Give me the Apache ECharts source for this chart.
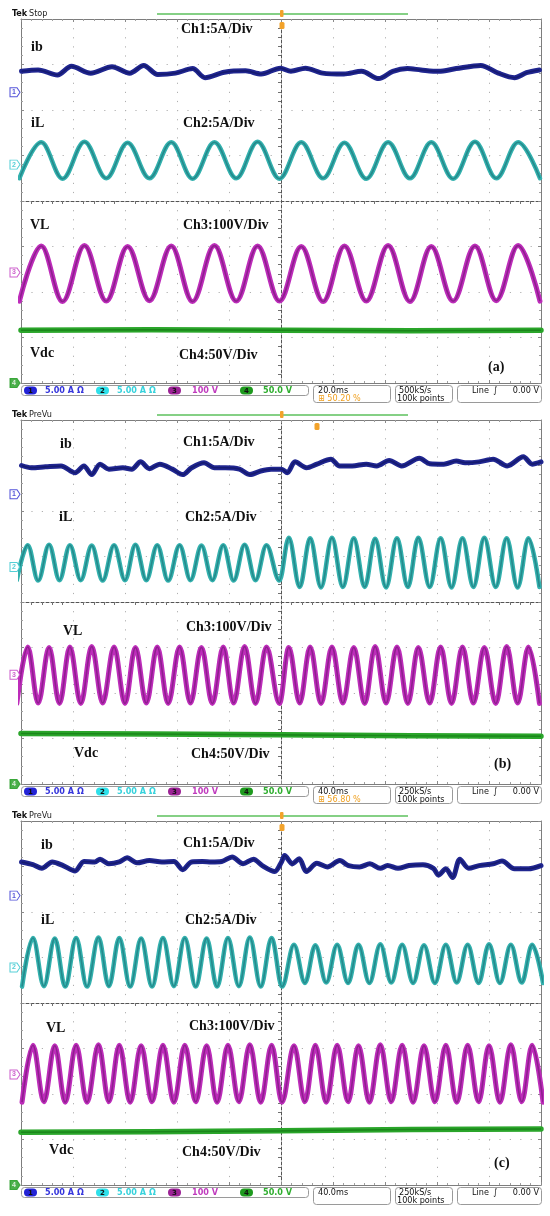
<!DOCTYPE html>
<html>
<head>
<meta charset="utf-8">
<script src="https://cdn.jsdelivr.net/npm/echarts@6/dist/echarts.min.js"></script>
<style>
  html, body { margin: 0; padding: 0; background: #fff; }
  #chart { width: 550px; height: 1216px; }
</style>
</head>
<body>
<div id="chart"></div>
<script>
'use strict'

// all values in screen divisions: x from centre (-5..5), y from centre (-4..4)

// (a) 20 ms/div : extrema times (trough, peak, trough ...)
const tA = [-5.03, -4.61, -4.20, -3.78, -3.36, -2.95, -2.53, -2.11, -1.70, -1.28,
  -0.86, -0.45, -0.03, 0.39, 0.81, 1.22, 1.64, 2.06, 2.48, 2.89,
  3.31, 3.73, 4.14, 4.56, 4.98]
const iLA = [0.50, 1.29, 0.49, 1.30, 0.50, 1.28, 0.50, 1.29, 0.49, 1.29,
  0.50, 1.30, 0.49, 1.29, 0.50, 1.28, 0.49, 1.29, 0.50, 1.29,
  0.49, 1.30, 0.50, 1.29, 0.50]
const vLA = [-2.20, -0.99, -2.21, -0.98, -2.20, -1.00, -2.19, -0.99, -2.21, -0.98,
  -2.20, -0.99, -2.20, -1.00, -2.21, -0.99, -2.20, -0.98, -2.21, -1.00,
  -2.20, -0.99, -2.19, -0.98, -2.20]
const ibTA = [-4.99, -4.67, -4.30, -4.03, -3.66, -3.25, -2.91, -2.64, -2.37, -2.03,
  -1.70, -1.46, -1.09, -0.68, -0.38, -0.01, 0.19, 0.47, 0.80, 1.21,
  1.55, 1.88, 2.15, 2.43, 2.69, 3.03, 3.37, 3.84, 4.18, 4.49, 4.72, 4.97]
const ibA = [2.85, 2.88, 2.77, 2.96, 2.81, 2.95, 2.81, 2.98, 2.78, 2.81,
  2.91, 2.71, 2.83, 2.86, 2.79, 2.92, 2.85, 2.92, 2.81, 2.79,
  2.85, 2.69, 2.85, 2.91, 2.88, 2.85, 2.91, 2.98, 2.81, 2.71, 2.82, 2.88]
const vdcTA = [-5, -2.5, 0, 2.5, 5]
const vdcA = [-2.84, -2.83, -2.84, -2.85, -2.84]
const refA = [2.39, 0.80, -1.57, -4]

// (b) 40 ms/div
const tB = [-5.08, -4.87, -4.67, -4.46, -4.26, -4.06, -3.85, -3.64, -3.43, -3.21,
  -3.00, -2.80, -2.59, -2.38, -2.17, -1.95, -1.74, -1.53, -1.32, -1.11,
  -0.91, -0.70, -0.49, -0.28, -0.03, 0.15, 0.36, 0.56, 0.77, 0.98,
  1.19, 1.40, 1.61, 1.81, 2.02, 2.23, 2.44, 2.64, 2.86, 3.07,
  3.28, 3.49, 3.70, 3.91, 4.13, 4.34, 4.55, 4.76, 4.97]
const iLB = [0.48, 1.25, 0.47, 1.26, 0.48, 1.25, 0.48, 1.24, 0.47, 1.25,
  0.48, 1.26, 0.48, 1.25, 0.47, 1.25, 0.48, 1.24, 0.48, 1.25,
  0.47, 1.26, 0.48, 1.25, 0.47, 1.41, 0.33, 1.40, 0.32, 1.41,
  0.33, 1.40, 0.33, 1.39, 0.32, 1.40, 0.33, 1.41, 0.33, 1.40,
  0.32, 1.40, 0.33, 1.41, 0.33, 1.40, 0.32, 1.40, 0.33]
const vLB = [-2.23, -0.99, -2.22, -1.00, -2.23, -0.99, -2.23, -0.98, -2.22, -0.99,
  -2.23, -1.00, -2.22, -0.99, -2.23, -0.99, -2.22, -1.00, -2.23, -0.99,
  -2.22, -0.98, -2.23, -0.99, -2.23, -1.00, -2.22, -0.99, -2.23, -0.99,
  -2.22, -1.00, -2.23, -0.98, -2.22, -0.99, -2.23, -1.00, -2.22, -0.99,
  -2.23, -0.99, -2.22, -1.00, -2.23, -0.98, -2.22, -0.99, -2.23]
const ibTB = [-4.99, -4.80, -4.53, -4.23, -3.96, -3.79, -3.64, -3.48, -3.31, -3.04,
  -2.87, -2.70, -2.53, -2.33, -2.09, -1.89, -1.72, -1.48, -1.28, -1.07,
  -0.80, -0.60, -0.39, -0.19, 0.01, 0.12, 0.27, 0.49, 0.69, 0.96,
  1.13, 1.37, 1.64, 1.84, 2.08, 2.32, 2.66, 2.86, 3.13, 3.37,
  3.54, 3.81, 4.08, 4.35, 4.66, 4.83, 5.00]
const ibB = [3.00, 2.95, 2.97, 2.99, 2.84, 2.99, 2.80, 3.03, 2.92, 2.95,
  2.92, 3.08, 2.93, 3.03, 2.92, 2.80, 2.95, 3.06, 2.95, 2.95,
  2.92, 2.80, 2.88, 2.92, 2.92, 2.84, 3.08, 2.95, 3.03, 3.14,
  2.99, 2.99, 3.03, 2.99, 3.11, 2.99, 3.16, 3.04, 3.03, 3.10,
  3.06, 3.08, 3.14, 2.99, 3.19, 3.03, 3.08]
const vdcTB = [-5, -2.5, 0, 2.5, 5]
const vdcB = [-2.89, -2.90, -2.92, -2.94, -2.95]
const refB = [2.37, 0.77, -1.60, -4]

// (c) 40 ms/div
const tC = [-4.98, -4.77, -4.56, -4.35, -4.15, -3.94, -3.73, -3.51, -3.31, -3.11,
  -2.90, -2.69, -2.48, -2.27, -2.06, -1.85, -1.64, -1.43, -1.23, -1.02,
  -0.81, -0.60, -0.39, -0.18, 0.02, 0.25, 0.46, 0.66, 0.87, 1.08,
  1.29, 1.49, 1.70, 1.91, 2.12, 2.33, 2.54, 2.75, 2.96, 3.17,
  3.38, 3.59, 3.80, 4.00, 4.21, 4.42, 4.63, 4.83, 5.04]
const iLC = [0.36, 1.43, 0.37, 1.42, 0.36, 1.43, 0.36, 1.44, 0.37, 1.43,
  0.36, 1.42, 0.36, 1.43, 0.37, 1.43, 0.36, 1.42, 0.36, 1.43,
  0.37, 1.44, 0.36, 1.43, 0.36, 1.28, 0.44, 1.27, 0.45, 1.28,
  0.44, 1.28, 0.44, 1.29, 0.45, 1.28, 0.44, 1.27, 0.44, 1.28,
  0.45, 1.28, 0.44, 1.29, 0.44, 1.28, 0.45, 1.28, 0.44]
const vLC = [-2.18, -0.93, -2.17, -0.94, -2.18, -0.93, -2.18, -0.92, -2.17, -0.93,
  -2.18, -0.94, -2.17, -0.93, -2.18, -0.93, -2.17, -0.94, -2.18, -0.93,
  -2.17, -0.92, -2.18, -0.93, -2.18, -0.94, -2.17, -0.93, -2.18, -0.93,
  -2.17, -0.94, -2.18, -0.92, -2.17, -0.93, -2.18, -0.94, -2.17, -0.93,
  -2.18, -0.93, -2.17, -0.94, -2.18, -0.92, -2.17, -0.93, -2.18]
const ibTC = [-4.99, -4.77, -4.60, -4.40, -4.19, -3.96, -3.79, -3.58, -3.48, -3.31,
  -3.11, -2.96, -2.77, -2.53, -2.29, -2.06, -1.89, -1.72, -1.51, -1.34,
  -1.14, -0.94, -0.73, -0.53, -0.36, -0.12, 0.01, 0.07, 0.22, 0.35,
  0.49, 0.69, 0.89, 1.13, 1.30, 1.51, 1.71, 1.91, 2.05, 2.25,
  2.46, 2.73, 2.93, 3.03, 3.17, 3.30, 3.44, 3.61, 3.81, 4.08,
  4.25, 4.49, 4.76, 5.00]
const ibC = [3.10, 3.04, 2.96, 3.10, 3.02, 2.90, 3.11, 3.10, 3.16, 3.06,
  3.10, 3.19, 3.08, 3.13, 3.10, 3.11, 2.93, 3.10, 3.11, 3.10,
  3.11, 3.21, 3.06, 3.16, 3.02, 2.89, 3.10, 3.24, 3.06, 3.17,
  2.89, 3.07, 2.99, 3.13, 3.02, 2.99, 3.06, 2.96, 3.02, 2.96,
  3.02, 3.04, 2.96, 2.81, 2.95, 2.76, 3.16, 2.96, 3.02, 3.06,
  3.12, 2.95, 2.95, 3.02]
const vdcTC = [-5, -2.5, 0, 2.5, 5]
const vdcC = [-2.84, -2.83, -2.81, -2.78, -2.77]
const refC = [2.36, 0.78, -1.57, -4]

// readouts
const modes = ['Stop', 'PreVu', 'PreVu']
const timeDiv = ['20.0ms', '40.0ms', '40.0ms']
const trigPos = ['50.20 %', '56.80 %', '']
const sampleRate = ['500kS/s', '250kS/s', '250kS/s']
const chScale = ['5.00 A \u03a9', '5.00 A \u03a9', '100 V', '50.0 V']
const chNames = ['1', '2', '3', '4']

// layout
const TOPS = [19, 420, 821]
const LEFT = 21
const W = 520
const H = 364
const CH_COLORS = ['#2b2bd0', '#2cc3cc', '#c13ac0', '#1f9b1f']
const LABEL_FONT = 'bold 14px "Liberation Serif"'
const SMALL_FONT = '9px "DejaVu Sans Condensed"'

const notes = [
  [['ib', 31, 47], ['Ch1:5A/Div', 181, 29], ['iL', 31, 123], ['Ch2:5A/Div', 183, 123],
    ['VL', 30, 225], ['Ch3:100V/Div', 183, 225], ['Vdc', 30, 353], ['Ch4:50V/Div', 179, 355], ['(a)', 488, 367]],
  [['ib', 60, 444], ['Ch1:5A/Div', 183, 442], ['iL', 59, 517], ['Ch2:5A/Div', 185, 517],
    ['VL', 63, 631], ['Ch3:100V/Div', 186, 627], ['Vdc', 74, 753], ['Ch4:50V/Div', 191, 754], ['(b)', 494, 764]],
  [['ib', 41, 845], ['Ch1:5A/Div', 183, 843], ['iL', 41, 920], ['Ch2:5A/Div', 185, 920],
    ['VL', 46, 1028], ['Ch3:100V/Div', 189, 1026], ['Vdc', 49, 1150], ['Ch4:50V/Div', 182, 1152], ['(c)', 494, 1163]]
]
const trigMarkX = [282, 317, 282]

const panels = [
  { t: tA, iL: iLA, vL: vLA, ibT: ibTA, ib: ibA, vdcT: vdcTA, vdc: vdcA, ref: refA },
  { t: tB, iL: iLB, vL: vLB, ibT: ibTB, ib: ibB, vdcT: vdcTB, vdc: vdcB, ref: refB },
  { t: tC, iL: iLC, vL: vLC, ibT: ibTC, ib: ibC, vdcT: vdcTC, vdc: vdcC, ref: refC }
]

function zip (xs, ys) {
  const n = Math.min(xs.length, ys.length)
  const out = []
  for (let i = 0; i < n; i++) out.push([xs[i], ys[i]])
  return out
}

function axesFor (g) {
  const hidden = { show: false }
  const xb = { gridIndex: g, type: 'value', min: -5, max: 5, interval: 1, axisLabel: hidden, silent: true }
  const yb = { gridIndex: g, type: 'value', min: -4, max: 4, interval: 1, axisLabel: hidden, silent: true }
  const centre = {
    axisLine: { onZero: true, lineStyle: { color: '#555', width: 1, type: [3, 2] } },
    axisTick: { show: false },
    minorTick: { show: true, splitNumber: 5, length: 3, lineStyle: { color: '#707070' } }
  }
  const edge = {
    axisLine: { onZero: false, lineStyle: { color: '#7d7d7d', width: 1 } },
    axisTick: { show: true, inside: true, length: 3, lineStyle: { color: '#8a8a8a' } },
    minorTick: { show: true, splitNumber: 5, length: 2, lineStyle: { color: '#a0a0a0' } },
    splitLine: { show: false }
  }
  return {
    x: [
      { ...xb, ...centre, position: 'bottom', splitLine: { show: true, lineStyle: { color: '#b0b0b0', type: [1.2, 7.9] } } },
      { ...xb, ...edge, position: 'top' },
      { ...xb, ...edge, position: 'bottom' }
    ],
    y: [
      { ...yb, ...centre, position: 'left', splitLine: { show: true, lineStyle: { color: '#b0b0b0', type: [1.2, 9.2] } } },
      { ...yb, ...edge, position: 'left' },
      { ...yb, ...edge, position: 'right' }
    ]
  }
}

// a scope trace: a wide band with a slightly darker core
function trace (p, name, xs, ys, outer, inner, wOuter, smooth, mono) {
  const base = {
    type: 'line',
    xAxisIndex: p * 3,
    yAxisIndex: p * 3,
    data: zip(xs, ys),
    showSymbol: false,
    symbol: 'none',
    smooth,
    smoothMonotone: mono,
    silent: true,
    animation: false
  }
  return [
    { ...base, name, z: 3, lineStyle: { color: outer, width: wOuter, cap: 'round', join: 'round' } },
    { ...base, name: name + '-core', z: 4, lineStyle: { color: inner, width: 1.6 } }
  ]
}

function refMarkers (p, refs) {
  return {
    type: 'scatter',
    xAxisIndex: p * 3,
    yAxisIndex: p * 3,
    clip: false,
    silent: true,
    animation: false,
    z: 6,
    symbol: 'path://M0,0H7L10,5L7,10H0Z',
    symbolSize: [10, 9],
    symbolOffset: [-6, 0],
    data: refs.map((r, i) => ({
      value: [-5, r],
      itemStyle: i === 3
        ? { color: CH_COLORS[3], borderColor: CH_COLORS[3], borderWidth: 1 }
        : { color: '#fff', borderColor: CH_COLORS[i], borderWidth: 1 },
      label: {
        show: true,
        position: 'inside',
        offset: [-1, 0],
        formatter: chNames[i],
        fontSize: 7,
        fontWeight: 'bold',
        color: i === 3 ? '#fff' : CH_COLORS[i]
      }
    }))
  }
}

function txt (x, y, text, font, fill, align) {
  const a = align || 'left'
  return {
    type: 'text', x, y, silent: true, z: 20,
    style: { text, font, fill, align: a, verticalAlign: 'middle', textAlign: a, textVerticalAlign: 'middle' }
  }
}

function rect (x, y, w, h, r, fill, stroke) {
  return {
    type: 'rect', silent: true, z: 19,
    shape: { x, y, width: w, height: h, r },
    style: { fill: fill || 'none', stroke: stroke || null, lineWidth: 1 }
  }
}

function seg (x1, y1, x2, y2, color, w) {
  return {
    type: 'line', silent: true, z: 19,
    shape: { x1, y1, x2, y2 },
    style: { stroke: color, lineWidth: w }
  }
}

function decorations (p) {
  const top = TOPS[p]
  const hy = top - 5
  const sy = top + 366
  const els = []
  // header
  els.push(txt(12, hy, 'Tek', 'bold 9px "DejaVu Sans Condensed"', '#111'))
  els.push(txt(29, hy, modes[p], SMALL_FONT, '#222'))
  els.push(seg(157, hy, 408, hy, '#5cc05c', 1.5))
  els.push(rect(280, hy - 4, 3.5, 7, 1, '#f2a22a'))
  els.push(rect(trigMarkX[p] - 2.5, top + 3, 5, 7, 1.5, '#f2a22a'))
  // notes
  notes[p].forEach(([s, x, y]) => els.push(txt(x, y, s, LABEL_FONT, '#111')))
  // status bar: channel scales
  els.push(rect(21.5, sy + 0.5, 287, 10, 3, null, '#9a9a9a'))
  const pillX = [24, 96, 168, 240]
  const scaleX = [45, 117, 192, 263]
  const scaleColors = ['#3535dc', '#36d2dc', '#c03cbe', '#2fae2f']
  const pillColors = ['#2323d6', '#2ee0ea', '#9c2296', '#1e9a1e']
  for (let i = 0; i < 4; i++) {
    els.push(rect(pillX[i], sy + 1.5, 13, 8, 4, pillColors[i]))
    els.push(txt(pillX[i] + 6.5, sy + 5.7, chNames[i], 'bold 7px "DejaVu Sans"', '#111', 'center'))
    els.push(txt(scaleX[i], sy + 5.7, chScale[i], 'bold ' + SMALL_FONT, scaleColors[i]))
  }
  // timebase
  els.push(rect(313.5, sy + 0.5, 77, 17, 3, null, '#9a9a9a'))
  els.push(txt(318, sy + 5.5, timeDiv[p], SMALL_FONT, '#111'))
  if (trigPos[p]) els.push(txt(318, sy + 14, '\u229e ' + trigPos[p], SMALL_FONT, '#f0a020'))
  // acquisition
  els.push(rect(395.5, sy + 0.5, 57, 17, 3, null, '#9a9a9a'))
  els.push(txt(399, sy + 5.5, sampleRate[p], SMALL_FONT, '#111'))
  els.push(txt(397, sy + 14, '100k points', SMALL_FONT, '#111'))
  // trigger
  els.push(rect(457.5, sy + 0.5, 84, 17, 3, null, '#9a9a9a'))
  els.push(txt(472, sy + 5.5, 'Line', SMALL_FONT, '#111'))
  els.push(txt(493, sy + 5.5, '\u222b', SMALL_FONT, '#111'))
  els.push(txt(539, sy + 5.5, '0.00 V', SMALL_FONT, '#111', 'right'))
  return els
}

const xAxes = []
const yAxes = []
const series = []
let graphics = []

panels.forEach((pd, p) => {
  const ax = axesFor(p)
  xAxes.push(...ax.x)
  yAxes.push(...ax.y)
  series.push(...trace(p, 'ib', pd.ibT, pd.ib, '#202690', '#151a70', 5, 0.3, null))
  series.push(...trace(p, 'iL', pd.t, pd.iL, '#33b1ae', '#258a8c', 4.5, 0.36, 'x'))
  series.push(...trace(p, 'VL', pd.t, pd.vL, '#bd2cba', '#8e1f8e', 5, 0.36, 'x'))
  series.push(...trace(p, 'Vdc', pd.vdcT, pd.vdc, '#2aa52a', '#1b861b', 5.5, 0, null))
  series.push(refMarkers(p, pd.ref))
  graphics = graphics.concat(decorations(p))
})

const chart = echarts.init(document.getElementById('chart'))
chart.setOption({
  animation: false,
  backgroundColor: '#fff',
  grid: TOPS.map(t => ({ left: LEFT, top: t, width: W, height: H, show: false, outerBoundsMode: 'none' })),
  xAxis: xAxes,
  yAxis: yAxes,
  series,
  graphic: { elements: graphics }
})
</script>
</body>
</html>
